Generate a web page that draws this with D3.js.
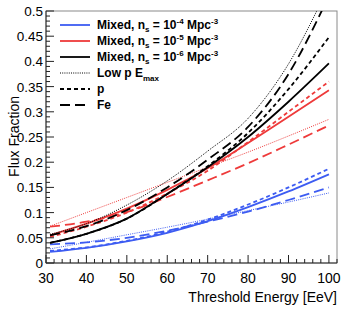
<!DOCTYPE html>
<html>
<head>
  <meta charset="utf-8">
  <script src="https://d3js.org/d3.v7.min.js"></script>
  <style>
    body { margin: 0; background: #fff; }
    text { font-family: "Liberation Sans", Arial, Helvetica, sans-serif; }
  </style>
</head>
<body>
  <svg width="352" height="310"></svg>
  <script>
    // threshold energy (EeV) where curves were read
    var energy = [31, 40, 50, 60, 70, 80, 90, 100];

    // n_s = 1e-4 (blue)
    var blueMixed = [0.022, 0.030, 0.043, 0.060, 0.083, 0.111, 0.142, 0.176];
    var blueP     = [0.024, 0.031, 0.044, 0.062, 0.086, 0.116, 0.150, 0.187];
    var blueFe    = [0.037, 0.041, 0.050, 0.064, 0.082, 0.102, 0.125, 0.150];
    var blueLowE  = [0.028, 0.041, 0.056, 0.071, 0.087, 0.104, 0.121, 0.139];

    // n_s = 1e-5 (red)
    var redMixed = [0.055, 0.078, 0.108, 0.145, 0.188, 0.238, 0.290, 0.343];
    var redP     = [0.052, 0.072, 0.100, 0.138, 0.183, 0.240, 0.300, 0.360];
    var redFe    = [0.072, 0.082, 0.101, 0.131, 0.164, 0.198, 0.235, 0.273];
    var redLowE  = [0.073, 0.100, 0.130, 0.160, 0.190, 0.220, 0.252, 0.285];

    // n_s = 1e-6 (black)
    var blackMixed = [0.040, 0.058, 0.088, 0.137, 0.190, 0.250, 0.320, 0.396];
    var blackP     = [0.040, 0.058, 0.088, 0.137, 0.192, 0.258, 0.345, 0.448];
    var blackFe    = [0.055, 0.073, 0.105, 0.150, 0.205, 0.270, 0.375, 0.530];
    var blackLowE  = [0.057, 0.078, 0.115, 0.163, 0.222, 0.287, 0.395, 0.550];

    var xTicks = [30, 40, 50, 60, 70, 80, 90, 100];
    var yTicks = [0, 0.05, 0.1, 0.15, 0.2, 0.25, 0.3, 0.35, 0.4, 0.45, 0.5];

    var blue = "#3d5cf2", red = "#ee3a3a", black = "#000";

    var styles = {
      mixed: {dash: null, width: 1.8},
      p:     {dash: "4,3", width: 1.8},
      fe:    {dash: "10,5", width: 1.8},
      low:   {dash: "1,1.2", width: 1}
    };

    var series = [
      {c: blue, s: "low", v: blueLowE}, {c: blue, s: "fe", v: blueFe},
      {c: blue, s: "p", v: blueP}, {c: blue, s: "mixed", v: blueMixed},
      {c: red, s: "low", v: redLowE}, {c: red, s: "fe", v: redFe},
      {c: red, s: "p", v: redP}, {c: red, s: "mixed", v: redMixed},
      {c: black, s: "low", v: blackLowE}, {c: black, s: "fe", v: blackFe},
      {c: black, s: "p", v: blackP}, {c: black, s: "mixed", v: blackMixed}
    ];

    var svg = d3.select("svg");
    var pLeft = 46, pRight = 337, pTop = 11, pBottom = 263;

    var x = d3.scaleLinear().domain([30, 102]).range([pLeft, pRight]);
    var y = d3.scaleLinear().domain([0, 0.5]).range([pBottom, pTop]);

    svg.append("clipPath").attr("id", "clip")
      .append("rect").attr("x", pLeft).attr("y", pTop)
      .attr("width", pRight - pLeft).attr("height", pBottom - pTop);

    // frame
    svg.append("rect").attr("x", pLeft).attr("y", pTop)
      .attr("width", pRight - pLeft).attr("height", pBottom - pTop)
      .attr("fill", "none").attr("stroke", "#8a8a8a").attr("stroke-width", 1);

    var line = d3.line()
      .x(function(d, i) { return x(energy[i]); })
      .y(function(d) { return y(d); })
      .curve(d3.curveMonotoneX);

    svg.append("g").attr("clip-path", "url(#clip)")
      .selectAll("path").data(series).enter().append("path")
      .attr("d", function(d) { return line(d.v); })
      .attr("fill", "none")
      .attr("stroke", function(d) { return d.c; })
      .attr("stroke-width", function(d) { return styles[d.s].width; })
      .attr("stroke-dasharray", function(d) { return styles[d.s].dash; });

    // x axis (ROOT style ticks pointing in)
    var gx = svg.append("g").attr("transform", "translate(0," + pBottom + ")");
    gx.append("line").attr("x1", pLeft).attr("x2", pRight).attr("stroke", "#333");
    gx.selectAll(".minor").data(d3.range(30, 103, 2)).enter().append("line")
      .attr("x1", function(d) { return x(d); }).attr("x2", function(d) { return x(d); })
      .attr("y1", 0).attr("y2", function(d) { return d % 10 === 0 ? -8 : -4; })
      .attr("stroke", "#222");
    gx.selectAll(".lab").data(xTicks).enter().append("text")
      .attr("x", function(d) { return x(d); }).attr("y", 20)
      .attr("text-anchor", "middle").attr("font-size", 14)
      .text(function(d) { return d; });

    // y axis
    var gy = svg.append("g").attr("transform", "translate(" + pLeft + ",0)");
    gy.append("line").attr("y1", pTop).attr("y2", pBottom).attr("stroke", "#333");
    gy.selectAll(".minor").data(d3.range(0, 51, 1)).enter().append("line")
      .attr("y1", function(d) { return y(d / 100); }).attr("y2", function(d) { return y(d / 100); })
      .attr("x1", 0).attr("x2", function(d) { return d % 5 === 0 ? 8 : 4; })
      .attr("stroke", "#222");
    gy.selectAll(".lab").data(yTicks).enter().append("text")
      .attr("x", -3).attr("y", function(d) { return y(d) + 5; })
      .attr("text-anchor", "end").attr("font-size", 13.5)
      .text(function(d) { return d3.format("")(d); });

    // titles
    svg.append("text").attr("x", pRight).attr("y", 302)
      .attr("text-anchor", "end").attr("font-size", 14)
      .text("Threshold Energy [EeV]");
    svg.append("text")
      .attr("transform", "translate(19,96) rotate(-90)")
      .attr("text-anchor", "end").attr("font-size", 14)
      .text("Flux Fraction");

    // legend
    var legend = [
      {c: blue, s: "mixed", exp: "-4"},
      {c: red, s: "mixed", exp: "-5"},
      {c: black, s: "mixed", exp: "-6"},
      {c: black, s: "low", label: "low"},
      {c: black, s: "p", label: "p"},
      {c: black, s: "fe", label: "Fe"}
    ];
    var lg = svg.append("g");
    legend.forEach(function(d, i) {
      var ly = 25 + i * 16;
      lg.append("line").attr("x1", 60).attr("x2", 90).attr("y1", ly).attr("y2", ly)
        .attr("stroke", d.c).attr("stroke-width", styles[d.s].width)
        .attr("stroke-dasharray", styles[d.s].dash);
      var t = lg.append("text").attr("x", 97).attr("y", ly + 4)
        .attr("font-size", 12).attr("font-weight", "bold");
      if (d.exp) {
        t.append("tspan").text("Mixed, n");
        t.append("tspan").attr("font-size", 8).attr("dy", 3).text("s");
        t.append("tspan").attr("dy", -3).text(" = 10");
        t.append("tspan").attr("font-size", 8).attr("dy", -5).text(d.exp);
        t.append("tspan").attr("dy", 5).text(" Mpc");
        t.append("tspan").attr("font-size", 8).attr("dy", -5).text("-3");
      } else if (d.label === "low") {
        t.append("tspan").text("Low p E");
        t.append("tspan").attr("font-size", 8).attr("dy", 4).text("max");
      } else {
        t.text(d.label);
      }
    });
  </script>
</body>
</html>
